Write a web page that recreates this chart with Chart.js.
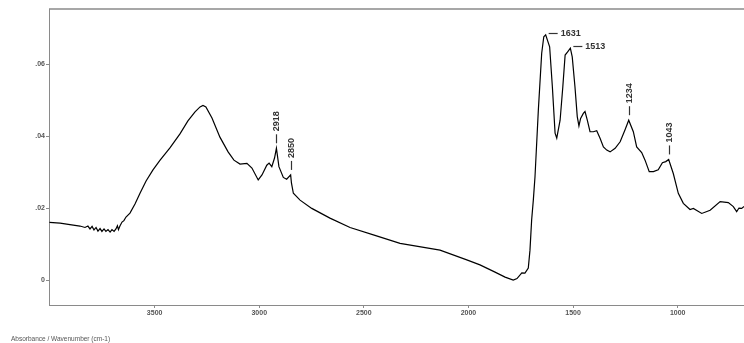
<!DOCTYPE html>
<html>
<head>
<meta charset="utf-8">
<script src="https://cdn.jsdelivr.net/npm/chart.js@4"></script>
<style>
  html, body { margin: 0; padding: 0; background: #fff; }
  #wrap { width: 744px; height: 343px; }
</style>
</head>
<body>
<div id="wrap"><canvas id="spectrumChart" width="744" height="343"></canvas></div>
<script>
// Wavenumber (cm-1) and absorbance
const wavenumbers = [4003, 3952, 3905, 3857, 3833, 3819, 3809, 3799, 3790, 3780, 3771, 3761, 3752, 3742, 3733, 3723, 3713, 3704, 3694, 3685, 3678, 3673, 3666, 3656, 3647, 3637, 3618, 3594, 3570, 3541, 3508, 3474, 3427, 3379, 3341, 3307, 3283, 3269, 3255, 3226, 3188, 3149, 3121, 3092, 3059, 3035, 3005, 2987, 2964, 2953, 2940, 2927, 2918, 2906, 2885, 2869, 2850, 2846, 2837, 2805, 2749, 2662, 2566, 2447, 2327, 2136, 2008, 1945, 1873, 1825, 1786, 1768, 1745, 1730, 1714, 1706, 1698, 1690, 1682, 1666, 1650, 1640, 1631, 1612, 1599, 1586, 1578, 1562, 1549, 1538, 1526, 1513, 1504, 1491, 1480, 1472, 1464, 1451, 1443, 1432, 1419, 1403, 1387, 1371, 1355, 1339, 1323, 1299, 1275, 1252, 1234, 1212, 1196, 1172, 1156, 1136, 1116, 1093, 1073, 1057, 1043, 1021, 997, 973, 941, 925, 885, 845, 797, 758, 734, 718, 707, 694, 683];
const absorbance = [0.0160, 0.0158, 0.0154, 0.0150, 0.0146, 0.0150, 0.0142, 0.0149, 0.0139, 0.0146, 0.0136, 0.0143, 0.0135, 0.0142, 0.0135, 0.0140, 0.0133, 0.0140, 0.0135, 0.0142, 0.0151, 0.0140, 0.0150, 0.0161, 0.0165, 0.0175, 0.0186, 0.0211, 0.0241, 0.0275, 0.0306, 0.0333, 0.0367, 0.0406, 0.0442, 0.0467, 0.0481, 0.0485, 0.0481, 0.0450, 0.0397, 0.0356, 0.0333, 0.0322, 0.0324, 0.0311, 0.0278, 0.0292, 0.0319, 0.0325, 0.0315, 0.0339, 0.0366, 0.0315, 0.0285, 0.0280, 0.0292, 0.0269, 0.0241, 0.0222, 0.0199, 0.0172, 0.0146, 0.0124, 0.0102, 0.0083, 0.0056, 0.0042, 0.0022, 0.0008, 0.0000, 0.0004, 0.0020, 0.0019, 0.0033, 0.0083, 0.0167, 0.0222, 0.0287, 0.0472, 0.0630, 0.0676, 0.0681, 0.0648, 0.0537, 0.0408, 0.0394, 0.0444, 0.0537, 0.0625, 0.0634, 0.0644, 0.0620, 0.0537, 0.0454, 0.0428, 0.0449, 0.0463, 0.0468, 0.0444, 0.0412, 0.0412, 0.0415, 0.0394, 0.0370, 0.0361, 0.0356, 0.0366, 0.0384, 0.0417, 0.0444, 0.0412, 0.0370, 0.0354, 0.0333, 0.0301, 0.0301, 0.0306, 0.0326, 0.0329, 0.0335, 0.0296, 0.0241, 0.0213, 0.0196, 0.0199, 0.0185, 0.0194, 0.0218, 0.0215, 0.0204, 0.0190, 0.0200, 0.0199, 0.0204];

// Peak labels: vertical ones sit above the peak, horizontal ones to its right
const verticalPeaks = [2918, 2850, 1234, 1043];
const horizontalPeaks = [1631, 1513];

// Axis ticks
const xTicks = [3500, 3000, 2500, 2000, 1500, 1000];
const yTicks = [0, 0.02, 0.04, 0.06];

const axisGray = '#8a8a8a';
const labelGray = '#555';

function absorbanceAt(w) {
    const i = wavenumbers.indexOf(w);
    return absorbance[i];
}

// Draws the top frame line, the peak labels and the caption
const peakLabelPlugin = {
    id: 'peakLabels',
    afterDatasetsDraw(chart) {
        const ctx = chart.ctx;
        const area = chart.chartArea;
        const xs = chart.scales.x;
        const ys = chart.scales.y;

        ctx.save();
        // top frame line
        ctx.strokeStyle = axisGray;
        ctx.lineWidth = 1.5;
        ctx.beginPath();
        ctx.moveTo(area.left, area.top);
        ctx.lineTo(area.right, area.top);
        ctx.stroke();

        ctx.fillStyle = '#333';
        ctx.strokeStyle = '#333';
        ctx.lineWidth = 1.2;
        ctx.font = 'bold 9px "Liberation Sans", Arial, sans-serif';

        verticalPeaks.forEach(w => {
            const px = Math.round(xs.getPixelForValue(w)) + 0.5;
            const py = ys.getPixelForValue(absorbanceAt(w));
            ctx.beginPath();
            ctx.moveTo(px, py - 5);
            ctx.lineTo(px, py - 14);
            ctx.stroke();
            ctx.save();
            ctx.translate(px, py - 17);
            ctx.rotate(-Math.PI / 2);
            ctx.textAlign = 'left';
            ctx.textBaseline = 'middle';
            ctx.fillText(String(w), 0, 0);
            ctx.restore();
        });

        horizontalPeaks.forEach(w => {
            const px = xs.getPixelForValue(w);
            const py = Math.round(ys.getPixelForValue(absorbanceAt(w)) - 2) + 0.5;
            ctx.beginPath();
            ctx.moveTo(px + 3, py);
            ctx.lineTo(px + 12, py);
            ctx.stroke();
            ctx.textAlign = 'left';
            ctx.textBaseline = 'middle';
            ctx.fillText(String(w), px + 15, py);
        });

        // caption at bottom left
        ctx.fillStyle = labelGray;
        ctx.font = '6.5px "Liberation Sans", Arial, sans-serif';
        ctx.textAlign = 'left';
        ctx.textBaseline = 'middle';
        ctx.fillText('Absorbance / Wavenumber (cm-1)', 11, 339);
        ctx.restore();
    }
};

const points = wavenumbers.map((w, i) => ({ x: w, y: absorbance[i] }));

new Chart(document.getElementById('spectrumChart').getContext('2d'), {
    type: 'line',
    data: {
        datasets: [{
            data: points,
            borderColor: '#000',
            borderWidth: 1.2,
            pointRadius: 0,
            tension: 0,
            fill: false
        }]
    },
    options: {
        responsive: false,
        animation: false,
        events: [],
        layout: { padding: { top: 9, right: 0, bottom: 0, left: 0 } },
        plugins: {
            legend: { display: false },
            tooltip: { enabled: false }
        },
        scales: {
            x: {
                type: 'linear',
                reverse: true,
                min: 683,
                max: 4005,
                afterBuildTicks: scale => { scale.ticks = xTicks.map(v => ({ value: v })); },
                afterFit: scale => { scale.height = 38; },
                grid: { drawOnChartArea: false, drawTicks: true, tickLength: 3, color: axisGray },
                border: { display: true, color: axisGray, width: 1 },
                ticks: {
                    maxRotation: 0,
                    autoSkip: false,
                    padding: 1,
                    color: labelGray,
                    font: { family: '"Liberation Sans", Arial, sans-serif', size: 7, weight: 'bold' },
                    callback: v => String(v)
                }
            },
            y: {
                type: 'linear',
                min: -0.00694,
                max: 0.0753,
                afterBuildTicks: scale => { scale.ticks = yTicks.map(v => ({ value: v })); },
                afterFit: scale => { scale.width = 49; },
                grid: { drawOnChartArea: false, drawTicks: true, tickLength: 3, color: axisGray },
                border: { display: true, color: axisGray, width: 1 },
                ticks: {
                    autoSkip: false,
                    padding: 1,
                    color: labelGray,
                    font: { family: '"Liberation Sans", Arial, sans-serif', size: 7, weight: 'bold' },
                    callback: v => v === 0 ? '0' : '.' + v.toFixed(2).split('.')[1]
                }
            }
        }
    },
    plugins: [peakLabelPlugin]
});
</script>
</body>
</html>
